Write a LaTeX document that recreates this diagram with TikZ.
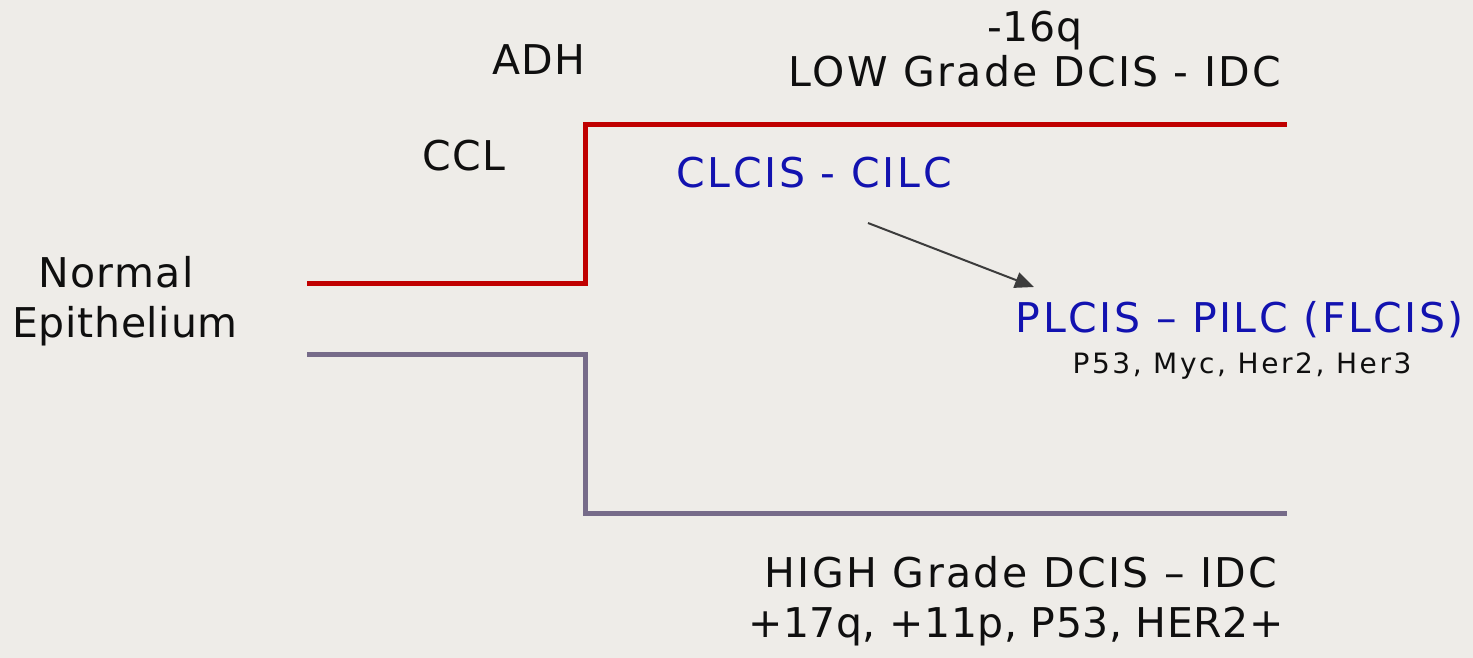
\documentclass[tikz,border=0pt]{standalone}
\usepackage{fontspec}
\setmainfont{DejaVu Sans}
\usetikzlibrary{arrows.meta}
\definecolor{bgpaper}{RGB}{238,236,232}
\definecolor{lowred}{RGB}{192,0,0}
\definecolor{highgrey}{RGB}{118,107,137}
\definecolor{lobblue}{RGB}{18,18,176}
\definecolor{txtblack}{RGB}{15,15,15}
\definecolor{arrgrey}{RGB}{60,60,60}
\begin{document}
\begin{tikzpicture}[x=1pt,y=-1pt,
  lbl/.style={inner sep=0pt,anchor=base,text=txtblack,font=\fontsize{41}{50}\selectfont\addfontfeature{LetterSpace=#1}},
  lbl/.default=0,
  bluelbl/.style={lbl=#1,text=lobblue},
  smalllbl/.style={inner sep=0pt,anchor=base,text=txtblack,font=\fontsize{28}{34}\selectfont\addfontfeature{LetterSpace=#1}},
  redpath/.style={draw=lowred,line width=5pt,line join=miter},
  greypath/.style={draw=highgrey,line width=5pt,line join=miter},
  connector/.style={draw=arrgrey,line width=2pt,-{Triangle[length=19pt,width=16pt]}}]
\fill[bgpaper] (0,0) rectangle (1473,658);
\useasboundingbox (0,0) rectangle (1473,658);
% paths
\coordinate (r0) at (307,283);
\coordinate (r1) at (585,283);
\coordinate (r2) at (585,125);
\coordinate (r3) at (1287,125);
\coordinate (g0) at (307,354);
\coordinate (g1) at (585,354);
\coordinate (g2) at (585,513);
\coordinate (g3) at (1287,513);
\draw[redpath] (r0) -- (r1) -- (r2) -- (r3);
\draw[greypath] (g0) -- (g1) -- (g2) -- (g3);
% labels
\node[lbl=2.4] (n16q) at (1035,42) {-16q};
\node[lbl=5.8] (low) at (1035,87) {LOW Grade DCIS - IDC};
\node[lbl=2.4] (adh) at (539,75) {ADH};
\node[lbl=2.4] (ccl) at (464,171) {CCL};
\node[bluelbl=6.6] (clcis) at (814,187) {CLCIS - CILC};
\node[lbl=3.4] (normal) at (116,287) {Normal};
\node[lbl=1.6] (epi) at (125,337) {Epithelium};
\node[bluelbl=6.2] (plcis) at (1240,332) {PLCIS – PILC (FLCIS)};
\node[smalllbl=9.3] (p53) at (1242,373) {P53, Myc, Her2, Her3};
\node[lbl=6.0] (high) at (1021,587) {HIGH Grade DCIS – IDC};
\node[lbl=1.3] (plus) at (1016,637) {+17q, +11p, P53, HER2+};
% arrow
\coordinate (as) at (868,223);
\coordinate (ae) at (1034,287);
\draw[connector] (as) -- (ae);
\end{tikzpicture}
\end{document}
